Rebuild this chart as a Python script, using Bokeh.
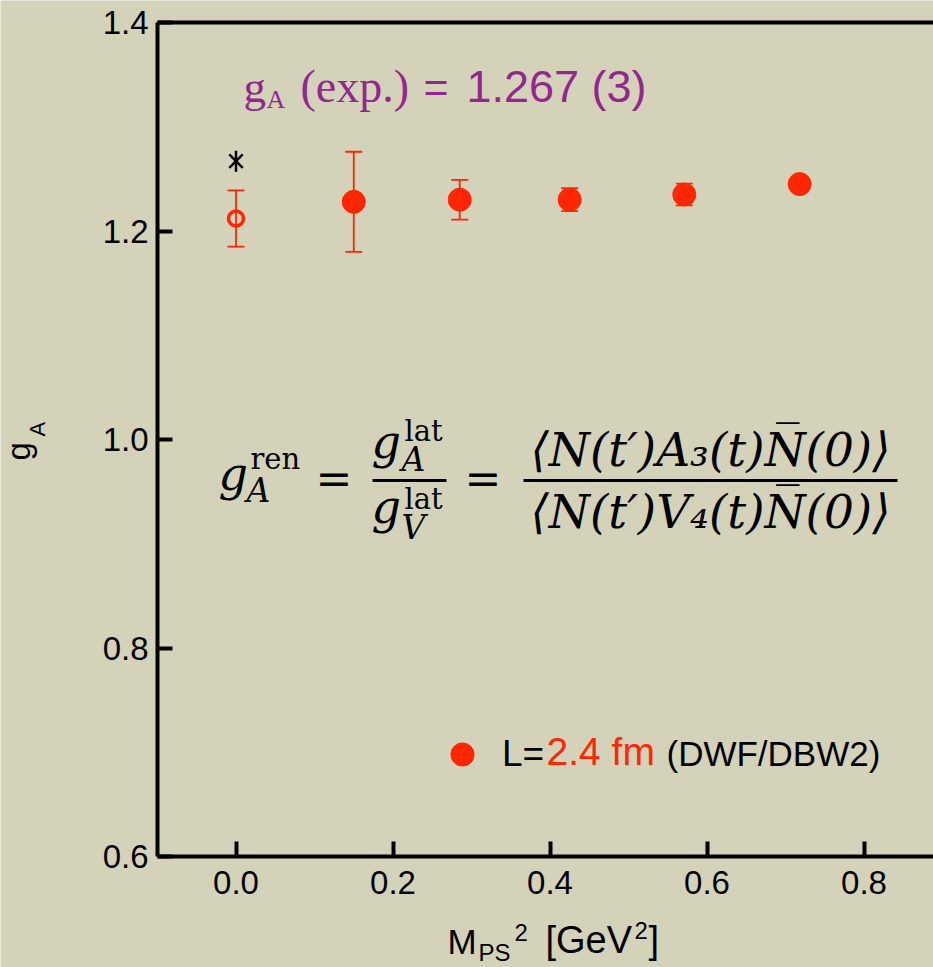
import math
from bokeh.plotting import figure
from bokeh.models import (ColumnDataSource, Whisker, TeeHead, Label, LinearAxis, FixedTicker,
                          Range1d, Legend, LegendItem, BoxAnnotation, PrintfTickFormatter)
from bokeh.embed import file_html
from bokeh.resources import INLINE

# ---------------- data ----------------
msq_filled = [0.150, 0.285, 0.425, 0.571, 0.718]          # M_PS^2 [GeV^2]
gA_filled = [1.228, 1.230, 1.230, 1.235, 1.245]
gA_filled_err = [0.048, 0.019, 0.011, 0.0105, 0.004]
msq_chiral = [0.0]
gA_chiral = [1.212]
gA_chiral_err = [0.027]
msq_exp = [0.0]
gA_exp = [1.267]
x_ticks = [0.0, 0.2, 0.4, 0.6, 0.8]
y_ticks = [0.6, 0.8, 1.0, 1.2, 1.4]

RED = "#FF2600"
PURPLE = "#93278F"
BG = "#D4D3BA"

W, H = 933, 967
# plot box (in canvas pixels) and its data limits
PL, PT, PR, PB = 157, 22, 933, 856
x0, x1 = -0.1, 0.8885
y0, y1 = 0.6, 1.4
sx = (x1 - x0) / (PR - PL)
sy = (y1 - y0) / (PB - PT)
# the frame covers the whole canvas; axes are pinned at the plot box edges
xa, xb = x0 - PL * sx, x1 + (W - PR) * sx
ya, yb = y0 - (H - PB) * sy, y1 + PT * sy


def X(px):
    return xa + px * sx


def Y(py):
    return yb - py * sy


p = figure(width=W, height=H, x_range=Range1d(xa, xb), y_range=Range1d(ya, yb),
           output_backend="svg", toolbar_location=None,
           min_border_left=0, min_border_right=0, min_border_top=0, min_border_bottom=0)
p.background_fill_color = BG
p.border_fill_color = BG
p.outline_line_color = None
p.xgrid.visible = False
p.ygrid.visible = False

for ax in (p.xaxis[0], p.yaxis[0]):
    ax.axis_line_width = 4
    ax.axis_line_color = "black"
    ax.major_tick_in = 15
    ax.major_tick_out = 0
    ax.major_tick_line_width = 4
    ax.minor_tick_line_color = None
    ax.major_label_text_font = "Liberation Sans"
    ax.major_label_text_font_size = "33px"
    ax.major_label_text_color = "black"
    ax.formatter = PrintfTickFormatter(format="%.1f")
p.xaxis[0].ticker = FixedTicker(ticks=x_ticks)
p.yaxis[0].ticker = FixedTicker(ticks=y_ticks)
p.xaxis[0].fixed_location = y0
p.yaxis[0].fixed_location = x0
p.xaxis[0].bounds = (x0, xb)
p.yaxis[0].bounds = (y0, y1)
p.xaxis[0].major_label_standoff = 14
p.yaxis[0].major_label_standoff = 9

top = LinearAxis(ticker=FixedTicker(ticks=[]), axis_line_width=4, axis_line_color="black",
                 major_tick_in=0, major_tick_out=0, minor_tick_in=0, minor_tick_out=0,
                 major_label_text_font_size="0px", major_label_standoff=0,
                 fixed_location=y1, bounds=(x0, xb))
p.add_layout(top, "above")

# ---------------- data marks ----------------
src_f = ColumnDataSource(dict(x=msq_filled, y=gA_filled,
                              lo=[v - e for v, e in zip(gA_filled, gA_filled_err)],
                              hi=[v + e for v, e in zip(gA_filled, gA_filled_err)]))
src_c = ColumnDataSource(dict(x=msq_chiral, y=gA_chiral,
                              lo=[v - e for v, e in zip(gA_chiral, gA_chiral_err)],
                              hi=[v + e for v, e in zip(gA_chiral, gA_chiral_err)]))
src_e = ColumnDataSource(dict(x=msq_exp, y=gA_exp))

for src in (src_f, src_c):
    w = Whisker(base="x", upper="hi", lower="lo", source=src, dimension="height",
                line_color=RED, line_width=1.8, level="underlay",
                upper_head=TeeHead(size=17, line_color=RED, line_width=1.8),
                lower_head=TeeHead(size=17, line_color=RED, line_width=1.8))
    p.add_layout(w)

filled = p.scatter("x", "y", source=src_f, size=23, fill_color=RED, line_color=RED)
p.scatter("x", "y", source=src_c, size=15, fill_color=None, line_color=RED, line_width=3.5)
p.scatter("x", "y", source=src_e, marker="x", size=19, line_color="black", line_width=2.5)
p.scatter("x", "y", source=src_e, marker="dash", size=21, angle=math.pi / 2,
          line_color="black", line_width=2.5)

SHIFT = 0.4    # compensate alphabetic baseline placement (em)
SHIFT_R = 0.1  # same for rotated text


def lab(txt, px, py, size, font="Liberation Sans", color="black", style="normal",
        align="left", angle=0.0):
    if angle:
        px = px - SHIFT_R * size
    else:
        py = py - SHIFT * size
    p.add_layout(Label(x=X(px), y=Y(py), text=txt, text_font=font, text_font_size=f"{size}px",
                       text_color=color, text_font_style=style, text_align=align,
                       text_baseline="alphabetic", angle=angle))


# ---------------- headline ----------------
lab("g", 243, 104, 45, "Liberation Serif", PURPLE)
lab("A", 266, 109, 26, "Liberation Serif", PURPLE)
lab("(exp.)", 300, 104, 46, "Liberation Serif", PURPLE)
lab("=", 423, 104, 43, "Liberation Sans", PURPLE)
lab("1.267 (3)", 466, 104, 45, "Liberation Sans", PURPLE)

# ---------------- formula ----------------
SER = "DejaVu Serif"
lab("g", 218, 492, 46, SER, style="italic")
lab("ren", 250, 470, 29, SER)
lab("A", 246, 503, 33, SER, style="italic")
lab("=", 315, 496, 44, SER)
lab("g", 371, 460, 46, SER, style="italic")
lab("lat", 404, 442, 29, SER)
lab("A", 401, 472, 33, SER, style="italic")
lab("g", 371, 525, 46, SER, style="italic")
lab("lat", 404, 510, 29, SER)
lab("V", 401, 540, 33, SER, style="italic")
lab("=", 464, 496, 44, SER)
p.add_layout(BoxAnnotation(left=X(372), right=X(446), top=Y(478.5), bottom=Y(481.5),
                           fill_color="black", fill_alpha=1, line_color=None))
p.add_layout(BoxAnnotation(left=X(523), right=X(897), top=Y(478.5), bottom=Y(481.5),
                           fill_color="black", fill_alpha=1, line_color=None))
lab("\u27e8N(t\u2032)A\u2083(t)N\u0305(0)\u27e9", 710, 468, 47, SER, style="italic", align="center")
lab("\u27e8N(t\u2032)V\u2084(t)N\u0305(0)\u27e9", 710, 530, 47, SER, style="italic", align="center")

# ---------------- legend ----------------
legend = Legend(items=[LegendItem(label="L=", renderers=[filled])], location=(433, H - 783),
                padding=0, margin=0, border_line_color=None, background_fill_alpha=0,
                glyph_width=58, glyph_height=58, label_standoff=11,
                label_text_font="Liberation Sans", label_text_font_size="37px",
                label_text_color="black")
p.add_layout(legend)
lab("2.4 fm", 546, 767, 39, color=RED)
lab("(DWF/DBW2)", 666, 767, 35)

# ---------------- axis titles ----------------
lab("g", 21, 460, 33, angle=math.pi / 2)
lab("A", 39, 436, 22, angle=math.pi / 2)
lab("M", 447, 955, 35)
lab("PS", 478, 962, 24)
lab("2", 514, 942, 24)
lab("[GeV", 545, 955, 38)
lab("2", 634, 940, 24)
lab("]", 648, 955, 38)

open("out.html", "w").write(file_html(p, INLINE))
